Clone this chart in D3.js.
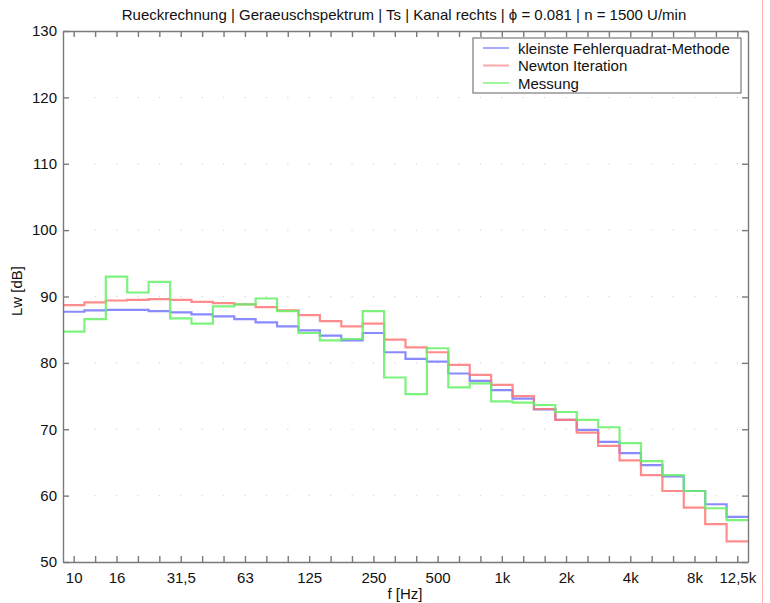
<!DOCTYPE html>
<html>
<head>
<meta charset="utf-8">
<script src="https://cdn.jsdelivr.net/npm/d3@7"></script>
<style>
  body { margin: 0; background: #fff; }
  text { font-family: Arial, "Liberation Sans", sans-serif; fill: #111; }
</style>
</head>
<body>
<div id="chart"></div>
<script>
// third-octave band index 0 = 10 Hz ... 31 = 12.5 kHz
const bandCount = 32;
const tickLabels = [
  { band: 0, label: "10" }, { band: 2, label: "16" }, { band: 5, label: "31,5" },
  { band: 8, label: "63" }, { band: 11, label: "125" }, { band: 14, label: "250" },
  { band: 17, label: "500" }, { band: 20, label: "1k" }, { band: 23, label: "2k" },
  { band: 26, label: "4k" }, { band: 29, label: "8k" }, { band: 31, label: "12,5k" }
];
const yTicks = [50, 60, 70, 80, 90, 100, 110, 120, 130];

const lsqValues = [87.7, 87.9, 88.0, 88.0, 87.8, 87.6, 87.3, 87.0, 86.6, 86.1, 85.5, 84.9,
  84.1, 83.4, 84.5, 81.6, 80.6, 80.2, 78.4, 77.3, 75.9, 74.6, 73.0, 71.4,
  69.9, 68.1, 66.4, 64.6, 62.9, 60.7, 58.7, 56.8];
const newtonValues = [88.7, 89.1, 89.4, 89.5, 89.6, 89.5, 89.2, 89.0, 88.8, 88.4, 87.9, 87.2,
  86.3, 85.5, 85.9, 83.5, 82.35, 81.6, 79.7, 78.2, 76.7, 75.0, 73.05, 71.4,
  69.5, 67.5, 65.3, 63.1, 60.7, 58.2, 55.7, 53.1];
const measuredValues = [84.7, 86.6, 93.0, 90.6, 92.2, 86.7, 85.9, 88.5, 88.8, 89.7, 87.8, 84.5,
  83.4, 83.6, 87.8, 77.8, 75.3, 82.2, 76.3, 76.9, 74.2, 74.0, 73.65, 72.6,
  71.4, 70.3, 67.9, 65.2, 63.1, 60.7, 58.1, 56.3];

const series = [
  { name: "kleinste Fehlerquadrat-Methode", values: lsqValues, color: "#7676ff", legend: "#a8a8ff" },
  { name: "Newton Iteration", values: newtonValues, color: "#ff7878", legend: "#ffa8a8" },
  { name: "Messung", values: measuredValues, color: "#66f066", legend: "#a0f7a0" }
];

const width = 770, height = 603;
const margin = { top: 31, right: 22, bottom: 41, left: 63 };
const innerW = width - margin.left - margin.right;
const innerH = height - margin.top - margin.bottom;
const fontSize = 15;

const centerFreq = i => Math.pow(10, 1 + i / 10);
const bands = d3.range(bandCount);

const svg = d3.select("#chart").append("svg")
  .attr("width", width).attr("height", height);

const x = d3.scaleLog()
  .domain([Math.pow(10, 0.95), Math.pow(10, 4.15)])
  .range([margin.left, margin.left + innerW]);
const y = d3.scaleLinear().domain([50, 130]).range([margin.top + innerH, margin.top]);

// faint dotted grid (dots at band positions on the dB lines)
const grid = svg.append("g");
yTicks.slice(1, -1).forEach(v => {
  grid.selectAll(null).data(bands.slice(1)).enter().append("rect")
    .attr("x", d => x(centerFreq(d)) - 0.5).attr("y", y(v) - 0.5)
    .attr("width", 1.2).attr("height", 1.2).attr("fill", "#d4d4d4");
});

// step lines
const line = d3.line().x(d => x(d.f)).y(d => y(d.v));
series.forEach(s => {
  const pts = [];
  s.values.forEach((v, i) => {
    pts.push({ f: Math.pow(10, 1 + (i - 0.5) / 10), v: v });
    pts.push({ f: Math.pow(10, 1 + (i + 0.5) / 10), v: v });
  });
  svg.append("path").datum(pts)
    .attr("d", line).attr("fill", "none")
    .attr("stroke", s.color).attr("stroke-width", 2.2)
    .attr("stroke-opacity", 0.85);
});

// axes
const axisColor = "#7a7a7a";
const xAxisBottom = d3.axisBottom(x).tickValues(bands.map(centerFreq))
  .tickSizeInner(-6).tickSizeOuter(0).tickPadding(10)
  .tickFormat((d, i) => { const t = tickLabels.find(l => l.band === i); return t ? t.label : ""; });
const xAxisTop = d3.axisTop(x).tickValues(bands.map(centerFreq))
  .tickSizeInner(-6).tickSizeOuter(0).tickFormat("");
const yAxisLeft = d3.axisLeft(y).tickValues(yTicks).tickSizeInner(-6).tickSizeOuter(0).tickPadding(6);
const yAxisRight = d3.axisRight(y).tickValues(yTicks).tickSizeInner(-6).tickSizeOuter(0).tickFormat("");

function styleAxis(g) {
  g.selectAll("path, line").attr("stroke", axisColor).attr("stroke-width", 1.4);
  g.selectAll("text").attr("font-size", fontSize).attr("fill", "#111")
    .attr("font-family", "Arial, 'Liberation Sans', sans-serif");
}
svg.append("g").attr("transform", `translate(0,${margin.top + innerH})`).call(xAxisBottom).call(styleAxis);
svg.append("g").attr("transform", `translate(0,${margin.top})`).call(xAxisTop).call(styleAxis);
svg.append("g").attr("transform", `translate(${margin.left},0)`).call(yAxisLeft).call(styleAxis);
svg.append("g").attr("transform", `translate(${margin.left + innerW},0)`).call(yAxisRight).call(styleAxis);

// labels
svg.append("text").attr("x", 404).attr("y", 20).attr("text-anchor", "middle")
  .attr("font-size", fontSize).text("Rueckrechnung | Geraeuschspektrum | Ts | Kanal rechts | \u03d5 = 0.081 | n = 1500 U/min");
svg.append("text").attr("x", 405).attr("y", 599).attr("text-anchor", "middle")
  .attr("font-size", fontSize).text("f [Hz]");
svg.append("text").attr("transform", "translate(22,291) rotate(-90)").attr("text-anchor", "middle")
  .attr("font-size", fontSize).text("Lw [dB]");

// legend
const legend = svg.append("g").attr("transform", "translate(473,38)");
legend.append("rect").attr("width", 268).attr("height", 55)
  .attr("fill", "#fff").attr("stroke", axisColor).attr("stroke-width", 1.2);
series.forEach((s, i) => {
  const row = legend.append("g").attr("transform", `translate(0,${10 + i * 17.5})`);
  row.append("line").attr("x1", 10).attr("x2", 36).attr("y1", 0).attr("y2", 0)
    .attr("stroke", s.legend).attr("stroke-width", 2);
  row.append("text").attr("x", 45).attr("y", 5.5).attr("font-size", fontSize).text(s.name);
});

// light red frame edge on the right
svg.append("line").attr("x1", 762.5).attr("x2", 762.5).attr("y1", 0).attr("y2", height)
  .attr("stroke", "#ffb0b0").attr("stroke-width", 1);
</script>
</body>
</html>
